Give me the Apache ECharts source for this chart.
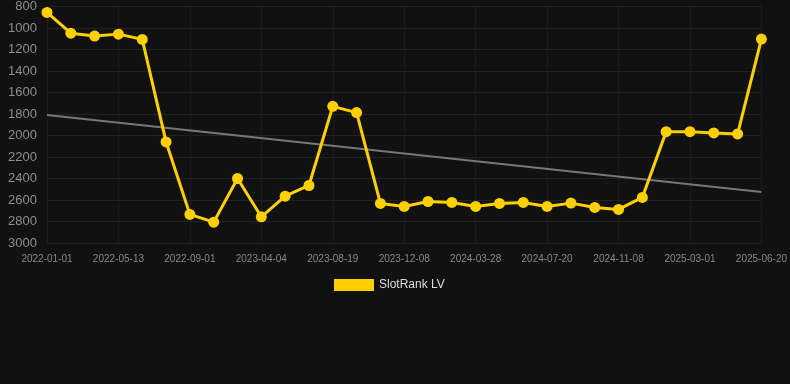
<!DOCTYPE html>
<html>
<head>
<meta charset="utf-8">
<script src="https://cdn.jsdelivr.net/npm/echarts@6/dist/echarts.min.js"></script>
<style>
  html, body { margin: 0; padding: 0; background: #111111; }
  #chart { width: 790px; height: 384px; }
</style>
</head>
<body>
<div id="chart"></div>
<script>
// dates of each sample, only every third one is labelled
const dates = [
  '2022-01-01', '2022-02-14', '2022-03-30', '2022-05-13', '2022-06-19', '2022-07-26',
  '2022-09-01', '2022-11-12', '2023-01-22', '2023-04-04', '2023-05-20', '2023-07-05',
  '2023-08-19', '2023-09-25', '2023-11-01', '2023-12-08', '2024-01-14', '2024-02-20',
  '2024-03-28', '2024-05-05', '2024-06-12', '2024-07-20', '2024-08-26', '2024-10-02',
  '2024-11-08', '2024-12-16', '2025-01-23', '2025-03-01', '2025-04-07', '2025-05-14',
  '2025-06-20'
]
const rankValues = [
  855, 1048, 1075, 1057, 1106, 2060,
  2734, 2806, 2400, 2756, 2564, 2465,
  1729, 1787, 2632, 2660, 2614, 2623,
  2660, 2632, 2623, 2660, 2629, 2669,
  2688, 2576, 1964, 1964, 1976, 1985,
  1103
]
// trend line end points (first and last date)
const trendStart = 1810
const trendEnd = 2525
const yTicks = { min: 800, max: 3000, step: 200 }

const trendValues = dates.map((d, i) => i === 0 ? trendStart : (i === dates.length - 1 ? trendEnd : null))

let myChart = echarts.init(document.getElementById('chart'))
myChart.setOption({
  backgroundColor: '#111111',
  animation: false,
  grid: {
    top: 6,
    left: 47,
    right: 28,
    bottom: 141
  },
  legend: {
    top: 274,
    left: 329,
    itemWidth: 40,
    itemHeight: 12,
    icon: 'rect',
    data: ['SlotRank LV'],
    textStyle: {
      color: '#dddddd',
      fontSize: 12,
      fontFamily: 'Arial, Liberation Sans, sans-serif'
    }
  },
  xAxis: {
    type: 'category',
    data: dates,
    boundaryGap: false,
    axisLine: { show: false },
    axisTick: { show: false },
    axisLabel: {
      interval: 2,
      color: '#888888',
      fontSize: 10,
      margin: 11,
      fontFamily: 'Arial, Liberation Sans, sans-serif'
    },
    splitLine: {
      show: true,
      interval: 2,
      lineStyle: { color: '#1c1c1c', width: 1 }
    }
  },
  yAxis: {
    type: 'value',
    inverse: true,
    min: yTicks.min,
    max: yTicks.max,
    interval: yTicks.step,
    axisLine: { show: false },
    axisTick: { show: false },
    axisLabel: {
      color: '#8e8e8e',
      fontSize: 13,
      margin: 10,
      formatter: v => String(v),
      fontFamily: 'Arial, Liberation Sans, sans-serif'
    },
    splitLine: {
      lineStyle: { color: '#222222', width: 1 }
    }
  },
  series: [{
    name: 'SlotRank LV',
    type: 'line',
    data: rankValues,
    symbol: 'circle',
    symbolSize: 11,
    color: '#ffd000',
    lineStyle: { color: '#ffd000', width: 3 },
    itemStyle: { color: '#ffd000' },
    z: 3
  }, {
    name: 'trend',
    type: 'line',
    data: trendValues,
    connectNulls: true,
    symbol: 'none',
    lineStyle: { color: '#777777', width: 2 },
    z: 2
  }]
})
</script>
</body>
</html>
